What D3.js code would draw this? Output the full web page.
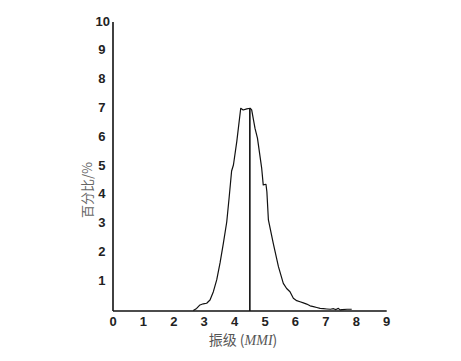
<!DOCTYPE html>
<html><head><meta charset="utf-8">
<script src="https://cdn.jsdelivr.net/npm/d3@7"></script>
<style>body{margin:0;background:#fff;}svg{display:block;}</style>
</head><body>
<svg id="c" width="461" height="361"></svg>
<script>
const xTicks = [0,1,2,3,4,5,6,7,8,9];
const yTicks = [1,2,3,4,5,6,7,8,9,10];
const mmi = [2.64,2.75,2.86,2.97,3.08,3.19,3.30,3.41,3.52,3.63,3.74,3.82,3.90,3.96,4.07,4.20,4.28,4.40,4.51,4.56,4.67,4.75,4.89,4.94,5.03,5.06,5.11,5.27,5.44,5.60,5.71,5.82,5.93,6.04,6.15,6.26,6.37,6.48,6.59,6.70,6.81,6.92,7.03,7.15,7.25,7.33,7.41,7.47,7.53,7.70,7.85];
const pct = [0.02,0.09,0.21,0.25,0.27,0.38,0.67,1.08,1.67,2.36,3.09,3.95,4.86,5.07,5.88,7.04,6.98,7.02,7.04,6.98,6.34,6.00,4.95,4.38,4.40,4.14,3.16,2.35,1.54,0.96,0.78,0.67,0.44,0.36,0.32,0.28,0.24,0.18,0.15,0.12,0.09,0.08,0.07,0.06,0.08,0.05,0.09,0.04,0.05,0.06,0.06];
const medianX = 4.5;
const medianY = 7.04;

const svg = d3.select("#c");
const x = d3.scaleLinear().domain([0,9]).range([113,386.7]);
const y = d3.scaleLinear().domain([0,10]).range([311,23]);

svg.append("line").attr("x1",x(0)).attr("x2",x(9)).attr("y1",y(0)).attr("y2",y(0))
  .attr("stroke","#111").attr("stroke-width",1.6);
svg.append("line").attr("x1",x(0)).attr("x2",x(0)).attr("y1",y(0)).attr("y2",y(10)-1)
  .attr("stroke","#111").attr("stroke-width",1.6);

const lf = "'Liberation Sans', Arial, sans-serif";
svg.append("g").selectAll("text").data(xTicks).join("text")
  .attr("x",d=>x(d)).attr("y",y(0)+15).attr("text-anchor","middle")
  .attr("font-family",lf).attr("font-size",13).attr("font-weight","bold").attr("fill","#222")
  .text(d=>d);
svg.append("g").selectAll("text").data(yTicks).join("text")
  .attr("x",d=>d===10?110:105.5).attr("y",d=>y(d)+2.5).attr("text-anchor","end")
  .attr("font-family",lf).attr("font-size",13).attr("font-weight","bold").attr("fill","#222")
  .text(d=>d);

const line = d3.line().x((d,i)=>x(mmi[i])).y((d,i)=>y(pct[i]));
svg.append("path").datum(pct).attr("d",line).attr("fill","none")
  .attr("stroke","#111").attr("stroke-width",1.2).attr("stroke-linejoin","round");

svg.append("line").attr("x1",x(medianX)).attr("x2",x(medianX)).attr("y1",y(0)).attr("y2",y(medianY))
  .attr("stroke","#111").attr("stroke-width",1.6);

const xt = svg.append("text").attr("x",243).attr("y",345).attr("text-anchor","middle")
  .attr("font-family","'Noto Sans CJK SC', sans-serif").attr("font-size",14).attr("fill","#555");
xt.append("tspan").text("振级 (");
xt.append("tspan").attr("font-family","'Liberation Serif', serif").attr("font-style","italic").text("MMI");
xt.append("tspan").text(")");

svg.append("text").attr("transform","translate(92,190) rotate(-90)").attr("text-anchor","middle")
  .attr("font-family","'Noto Sans CJK SC', sans-serif").attr("font-size",13).attr("fill","#666")
  .text("百分比/%");
</script>
</body></html>
